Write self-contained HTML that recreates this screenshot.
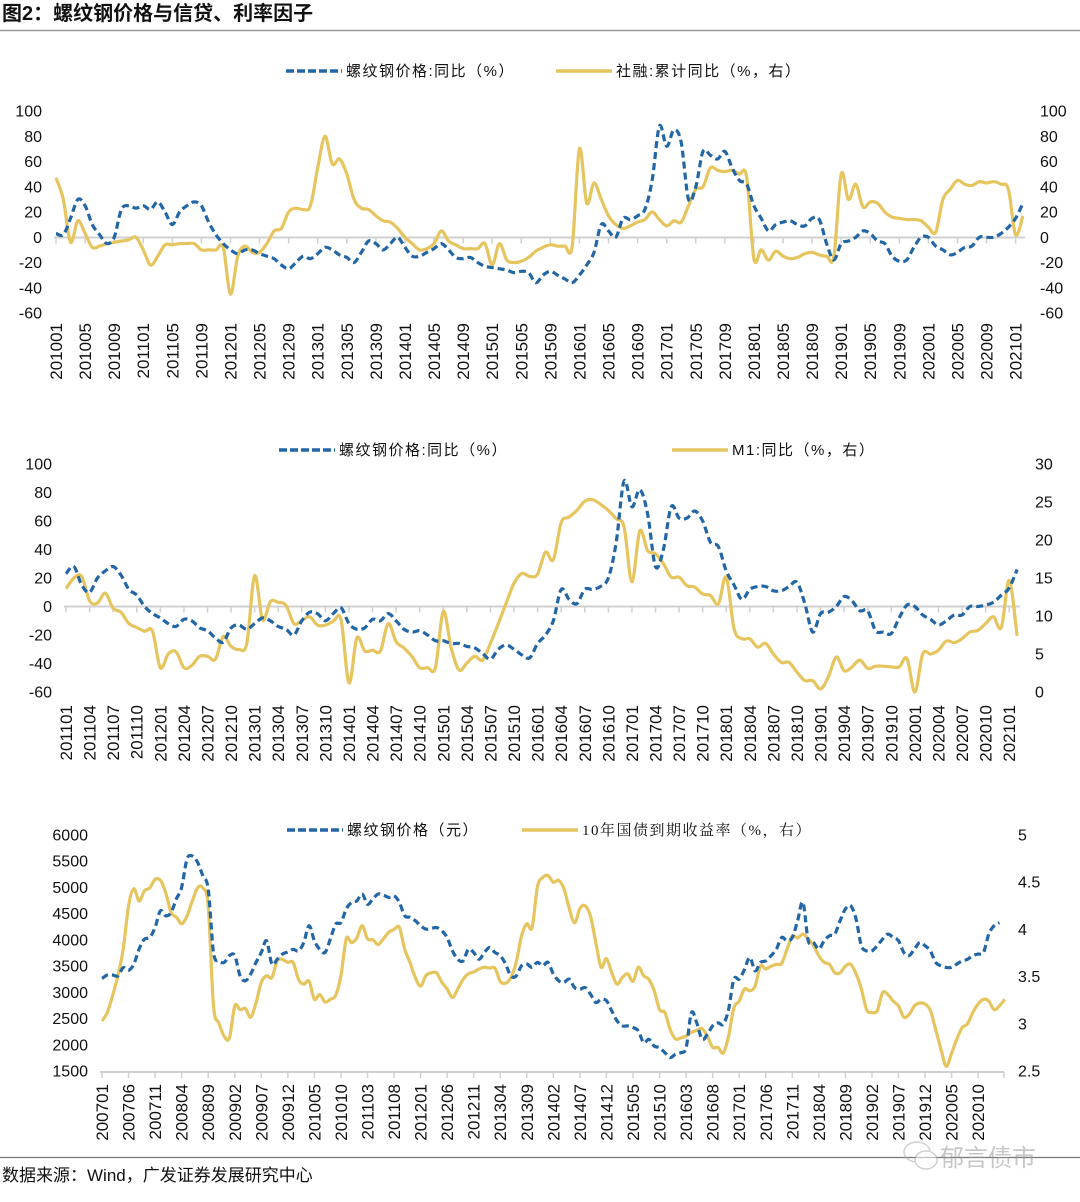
<!DOCTYPE html>
<html><head><meta charset="utf-8">
<style>
html,body{margin:0;padding:0;background:#fff;}
svg{display:block;}
text{font-family:"Liberation Sans","Noto Sans CJK SC",sans-serif;fill:#111;}
.ser{font-family:"Liberation Serif","Noto Serif CJK SC",serif;}
.leg{letter-spacing:1.5px;}
</style></head>
<body>
<svg id="root" width="1080" height="1202" viewBox="0 0 1080 1202" xmlns="http://www.w3.org/2000/svg">
<text x="2" y="20" font-size="20" font-weight="bold">图2：螺纹钢价格与信贷、利率因子</text>
<line x1="0" y1="30.5" x2="1080" y2="30.5" stroke="#999" stroke-width="1.5"/>
<line x1="0" y1="1157.5" x2="1080" y2="1157.5" stroke="#777" stroke-width="1.2"/>
<text x="2" y="1181" font-size="17" fill="#222">数据来源：Wind，广发证券发展研究中心</text>
<g opacity="0.55">
<ellipse cx="917" cy="1152" rx="13" ry="10" fill="none" stroke="#aaa" stroke-width="1.5"/>
<ellipse cx="926" cy="1160" rx="11" ry="9" fill="#fff" stroke="#aaa" stroke-width="1.5"/>
<text x="940" y="1166" font-size="24" style="fill:#999">郁言债市</text>
</g>
<g id="p1"></g>
<g id="p2"></g>
<g id="p3"></g>
</svg>
<script>
// ---------- Panel 1 data: 201001..202102 ----------
const p1Rebar = [
3,2,15,30,25,10,2,-5,0,22,25,23,
25,22,28,20,10,20,25,28,25,12,2,-5,
-10,-13,-10,-10,-13,-15,-17,-22,-25,-20,-15,-17,
-13,-8,-10,-14,-16,-20,-12,-3,-5,-10,-5,0,
-8,-15,-15,-12,-9,-5,-10,-16,-17,-16,-20,-23,
-24,-25,-26,-28,-27,-28,-36,-30,-27,-30,-33,-36,
-30,-22,-12,10,5,0,15,14,17,22,45,88,
72,85,75,30,40,68,65,62,68,55,45,42,
25,15,5,10,12,13,10,9,15,14,-5,-18,
-5,-3,0,5,3,-3,-5,-15,-19,-18,-8,0,
0,-7,-10,-14,-12,-8,-7,0,0,0,3,8,
15,27];
const p1Tsf = [
47,30,-4,13,3,-8,-7,-5,-4,-3,-2,0,
-10,-22,-15,-6,-6,-5,-5,-5,-10,-10,-10,-8,
-45,-15,-7,-12,-12,-5,5,7,20,23,22,25,
55,80,58,62,50,30,23,22,17,13,12,7,
0,-5,-10,-9,-5,5,-3,-6,-9,-9,-9,-5,
-22,-5,-18,-20,-19,-16,-11,-8,-6,-7,-7,-7,
70,27,43,30,17,10,7,9,12,14,20,14,
9,13,12,25,38,40,55,53,52,53,50,48,
-17,-10,-18,-11,-15,-17,-16,-13,-12,-14,-15,-15,
50,30,42,24,28,27,20,16,15,14,14,13,
8,4,30,38,45,42,41,44,43,44,42,38,
2,17];
const p1LeftTicks = [100,80,60,40,20,0,-20,-40,-60];
// ---------- Panel 2 data: 201101..202102 ----------
const p2Rebar = [
23,28,15,10,20,25,28,22,12,8,0,-5,
-8,-12,-14,-9,-10,-15,-17,-22,-25,-15,-13,-16,
-12,-8,-10,-14,-16,-20,-10,-4,-5,-10,-5,-1,
-12,-16,-15,-9,-10,-5,-10,-16,-18,-17,-20,-24,
-24,-26,-26,-28,-29,-33,-37,-30,-27,-30,-34,-36,
-26,-20,-10,12,5,2,12,12,14,20,45,88,
70,82,65,28,40,70,62,62,67,60,45,42,
25,15,5,12,14,14,11,11,14,17,2,-18,
-5,-4,0,7,4,-3,-3,-17,-18,-19,-8,1,
0,-6,-9,-13,-10,-6,-6,0,0,1,3,8,
13,26];
const p2M1 = [
13.6,15,15.2,12,11.7,13,11,10.5,9,8.5,8,8,
3.2,5,5.3,3.2,3.5,4.7,4.7,4.3,7.3,6,5.6,6.4,
15.3,9.5,11.9,11.8,11.4,9,9.4,9.9,8.8,8.8,9.3,9.5,
1.2,7.1,5.4,5.5,5.4,9,6.6,5.8,4.7,3.2,3.2,3.2,
10.6,5.8,2.9,3.8,4.7,4.2,6.4,9,11.7,14.3,15.6,15.2,
15.5,18.4,17.4,22.3,23,23.9,25.1,25.3,24.7,23.9,22.8,21.7,
14.5,21.2,18.6,18.2,16.9,15.1,15.1,14,13.8,12.9,12.7,11.6,
15.1,8.3,7,7,5.9,6.4,5,3.9,3.9,2.6,1.5,1.5,
0.4,2,4.6,2.8,3.3,4.2,3.1,3.4,3.4,3.3,3.3,4.4,
0,5,5,5.5,6.7,6.5,7,7.9,8.1,9,9.9,8.5,
14.7,7.4];
const p2RightTicks = [30,25,20,15,10,5,0];
// ---------- Panel 3 data: 200701..202103 ----------
const p3Price = [
3263,3330,3330,3313,3470,3420,3540,3830,4015,4045,4240,4555,
4460,4520,4780,5000,5540,5600,5480,5220,4970,3760,3600,3570,
3700,3700,3313,3220,3350,3570,3760,3980,3540,3630,3730,3770,
3820,3790,3950,4270,3980,3820,3760,4015,4300,4330,4590,4715,
4745,4875,4680,4780,4875,4855,4810,4840,4715,4460,4430,4365,
4270,4205,4220,4235,4175,4045,3790,3630,3600,3820,3760,3630,
3760,3855,3760,3700,3540,3313,3313,3505,3540,3475,3570,3505,
3570,3350,3220,3190,3250,3090,3060,3090,2965,2805,2870,2840,
2645,2455,2360,2360,2330,2265,2040,2105,1975,1945,1850,1755,
1820,1850,1945,2610,2420,2105,2200,2360,2420,2390,2675,3250,
3250,3440,3665,3410,3570,3600,3700,3825,4045,3985,4045,4365,
4715,3985,3950,3825,3985,4080,4110,4365,4590,4650,4400,3890,
3790,3790,3890,4015,4110,4045,3985,3760,3700,3825,3950,3890,
3790,3570,3505,3475,3475,3540,3600,3630,3700,3730,3760,4110,
4270,4330];
const p3Yield = [
3.03,3.12,3.30,3.51,3.79,4.25,4.43,4.30,4.41,4.44,4.53,4.52,
4.39,4.18,4.13,4.06,4.14,4.30,4.44,4.44,4.25,3.19,3.01,2.87,
2.85,3.19,3.15,3.16,3.07,3.22,3.44,3.51,3.49,3.67,3.68,3.65,
3.65,3.47,3.42,3.45,3.26,3.31,3.23,3.26,3.30,3.51,3.90,3.86,
3.91,4.04,3.90,3.89,3.84,3.90,3.97,4.00,4.02,3.79,3.65,3.49,
3.40,3.51,3.54,3.54,3.44,3.37,3.28,3.37,3.47,3.53,3.55,3.58,
3.60,3.59,3.59,3.45,3.43,3.49,3.65,3.93,4.06,4.02,4.45,4.55,
4.57,4.50,4.52,4.43,4.22,4.07,4.22,4.25,4.14,3.86,3.60,3.69,
3.54,3.42,3.49,3.53,3.45,3.60,3.51,3.47,3.35,3.15,3.12,2.94,
2.84,2.85,2.87,2.91,2.93,2.95,2.87,2.75,2.75,2.69,2.87,3.17,
3.24,3.37,3.35,3.40,3.61,3.58,3.61,3.63,3.64,3.79,3.93,3.91,
3.95,3.90,3.83,3.72,3.65,3.63,3.54,3.54,3.61,3.63,3.53,3.37,
3.15,3.12,3.14,3.33,3.31,3.24,3.19,3.07,3.10,3.19,3.22,3.21,
3.14,2.94,2.73,2.55,2.69,2.84,2.96,3.00,3.12,3.21,3.26,3.24,
3.15,3.19,3.26];
const p3LeftTicks = [6000,5500,5000,4500,4000,3500,3000,2500,2000,1500];
const p3RightTicks = ["5","4.5","4","3.5","3","2.5"];

const NS = "http://www.w3.org/2000/svg";
const BLUE = "#2266a6", GOLD = "#e6c45e";
function mk(tag, attrs, parent){
  const e = document.createElementNS(NS, tag);
  for (const k in attrs) e.setAttribute(k, attrs[k]);
  parent.appendChild(e); return e;
}
function smoothPath(pts){
  let d = "M" + pts[0][0].toFixed(1) + "," + pts[0][1].toFixed(1);
  for (let i = 0; i < pts.length - 1; i++){
    const p0 = pts[i-1] || pts[i], p1 = pts[i], p2 = pts[i+1], p3 = pts[i+2] || p2;
    const t = 0.5/3;
    const c1x = p1[0] + (p2[0]-p0[0])*t, c1y = p1[1] + (p2[1]-p0[1])*t;
    const c2x = p2[0] - (p3[0]-p1[0])*t, c2y = p2[1] - (p3[1]-p1[1])*t;
    d += "C" + c1x.toFixed(1) + "," + c1y.toFixed(1) + " " + c2x.toFixed(1) + "," + c2y.toFixed(1) + " " + p2[0].toFixed(1) + "," + p2[1].toFixed(1);
  }
  return d;
}
function monthLabel(y0, m0, i){
  const t = (y0*12 + (m0-1)) + i;
  const y = Math.floor(t/12), m = t%12 + 1;
  return String(y) + (m < 10 ? "0" : "") + m;
}
function linear(d0, d1, r0, r1){ return v => r0 + (v-d0)*(r1-r0)/(d1-d0); }

function panel(cfg){
  const g = document.getElementById(cfg.id);
  const x = i => cfg.x0 + i*cfg.dx;
  const axLine = mk("line", {x1:cfg.x0-2, y1:cfg.axisY, x2:cfg.xEnd, y2:cfg.axisY, stroke:"#d0d0d0", "stroke-width":2}, g);
  
  
  for (let i = 0; i <= cfg.nMonths; i += cfg.step){
    const tk = mk("line", {x1:x(i), y1:cfg.axisY, x2:x(i), y2:cfg.axisY+6, stroke:"#d0d0d0", "stroke-width":1.5}, g);
    
    
    const tx = mk("text", {transform:"translate(" + (x(i)+6).toFixed(1) + "," + cfg.labTop + ") rotate(-90)", "text-anchor":"end", "font-size":17}, g);
    tx.textContent = monthLabel(cfg.y0, cfg.m0, i);
    
    
  }
  if (cfg.endTick){
    const tk = mk("line", {x1:cfg.xEnd, y1:cfg.axisY, x2:cfg.xEnd, y2:cfg.axisY+6, stroke:"#d0d0d0", "stroke-width":1.5}, g);
    
    
  }
  cfg.leftTicks.forEach(v => {
    const t = mk("text", {x:cfg.leftX, y:(cfg.yL(v)+5.5).toFixed(1), "text-anchor":"end", "font-size":cfg.tickFs}, g);
    t.textContent = String(v);
    
    
  });
  cfg.rightTicks.forEach(v => {
    const t = mk("text", {x:cfg.rightX, y:(cfg.yR(+v)+5.5).toFixed(1), "text-anchor":"start", "font-size":cfg.tickFs}, g);
    t.textContent = String(v);
    
    
  });
  const gold = mk("path", {d:smoothPath(cfg.goldData.map((v,i)=>[x(i), cfg.goldScale(v)])), fill:"none", stroke:GOLD, "stroke-width":3.2, "stroke-linejoin":"round"}, g);
  
  
  const blue = mk("path", {d:smoothPath(cfg.blueData.map((v,i)=>[x(i), cfg.yL(v)])), fill:"none", stroke:BLUE, "stroke-width":3.2, "stroke-dasharray":"7,4"}, g);
  
  
  const lb = mk("line", {x1:cfg.legB[0], y1:cfg.legY, x2:cfg.legB[0]+56, y2:cfg.legY, stroke:BLUE, "stroke-width":3.5, "stroke-dasharray":"8,3"}, g);
  
  
  const lbt = mk("text", {x:cfg.legB[0]+60, y:cfg.legY+5, "font-size":15, fill:"#222", "class":"leg"}, g);
  lbt.textContent = cfg.legB[1];
  
  
  const lg = mk("line", {x1:cfg.legG[0], y1:cfg.legY, x2:cfg.legG[0]+56, y2:cfg.legY, stroke:GOLD, "stroke-width":3.5}, g);
  
  
  const lgt = mk("text", {x:cfg.legG[0]+60, y:cfg.legY+5, "font-size":15, fill:"#222", "class": cfg.serifG ? "ser leg" : "leg"}, g);
  lgt.textContent = cfg.legG[1];
  
  
}

const p1yL = linear(100, -60, 111, 313);
panel({id:"p1", x0:56, dx:7.27, nMonths:133, step:4, y0:2010, m0:1, axisY:237.5, xEnd:1025, labTop:323,
  yL:p1yL, yR:p1yL, goldScale:p1yL, leftTicks:p1LeftTicks, rightTicks:p1LeftTicks, leftX:42, rightX:1040, tickFs:16,
  blueData:p1Rebar, goldData:p1Tsf, blueName:"line-rebar-yoy", goldName:"line-tsf-yoy",
  legY:71, legB:[286,"螺纹钢价格:同比（%）"], legG:[556,"社融:累计同比（%，右）"]});

const p2yL = linear(100, -60, 464, 692), p2yR = linear(30, 0, 464, 692);
panel({id:"p2", x0:66, dx:7.86, nMonths:121, step:3, y0:2011, m0:1, axisY:606.5, xEnd:1020, labTop:705,
  yL:p2yL, yR:p2yR, goldScale:p2yR, leftTicks:p1LeftTicks, rightTicks:p2RightTicks, leftX:52, rightX:1035, tickFs:16,
  blueData:p2Rebar, goldData:p2M1, blueName:"line-rebar-yoy", goldName:"line-m1-yoy",
  legY:450, legB:[279,"螺纹钢价格:同比（%）"], legG:[672,"M1:同比（%，右）"]});

const p3yL = linear(6000, 1500, 835, 1071), p3yR = linear(5, 2.5, 835, 1071);
panel({id:"p3", x0:102, dx:5.31, nMonths:169, step:5, y0:2007, m0:1, axisY:1072, xEnd:1004, labTop:1084, endTick:true,
  yL:p3yL, yR:p3yR, goldScale:p3yR, leftTicks:p3LeftTicks, rightTicks:p3RightTicks, leftX:88, rightX:1018, tickFs:16,
  blueData:p3Price, goldData:p3Yield, blueName:"line-rebar-price", goldName:"line-10y-yield",
  legY:830, legB:[287,"螺纹钢价格（元）"], legG:[522,"10年国债到期收益率（%，右）"], serifG:true});
</script>
</body></html>
